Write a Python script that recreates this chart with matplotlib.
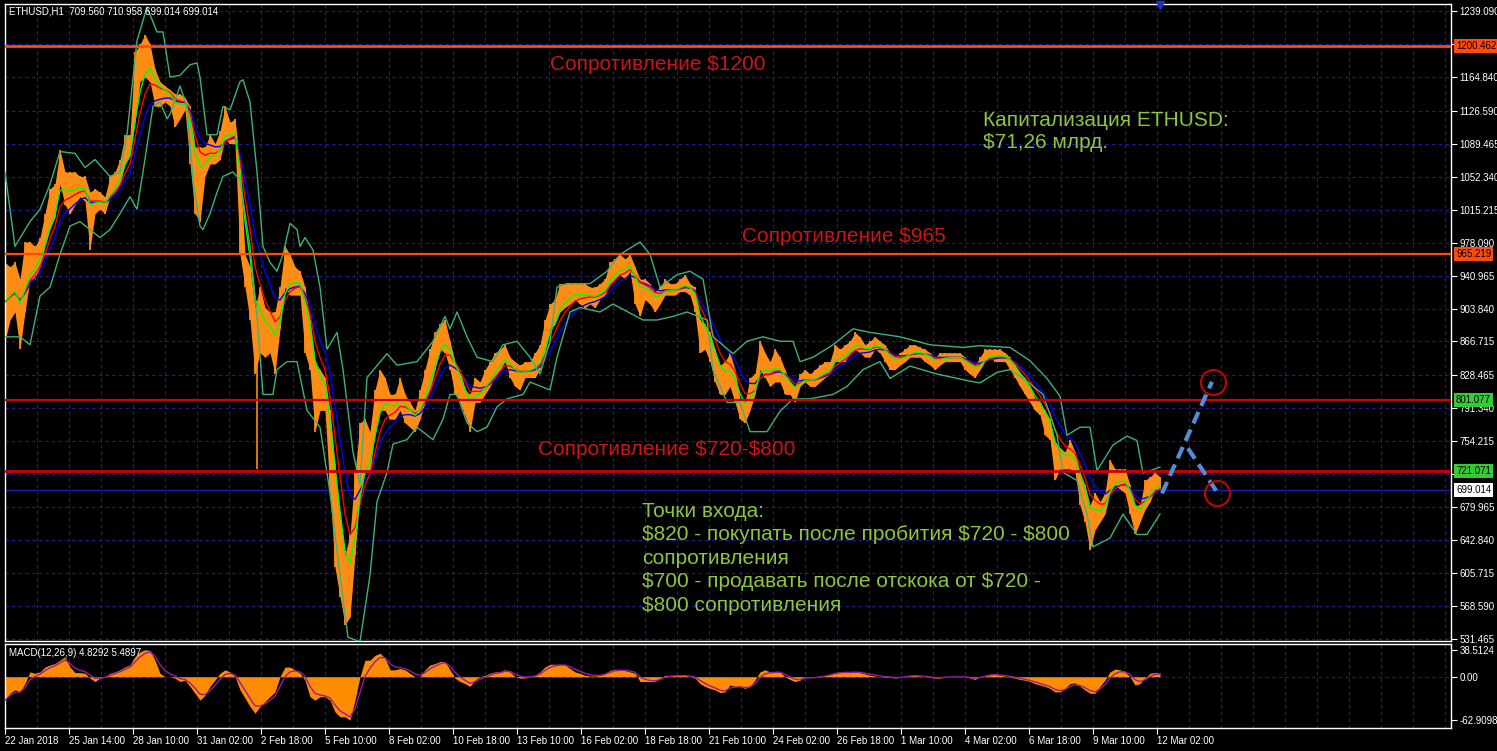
import numpy as np
import pandas as pd
import matplotlib
matplotlib.use("Agg")
import matplotlib.pyplot as plt

plt.rcParams['font.family'] = ['Liberation Sans', 'DejaVu Sans']

# ---- data (H1 bars, one bar per pixel column, sampled every 5 bars) ----
bar_high = [956, 951, 956, 937, 979, 979, 974, 984, 1011, 1039,
            1044, 1083, 1058, 1058, 1058, 1053, 1053, 1035, 1039, 1035,
            1030, 1053, 1058, 1072, 1100, 1100, 1193, 1202, 1213, 1202,
            1174, 1160, 1155, 1151, 1146, 1146, 1142, 1132, 1086, 1086,
            1086, 1100, 1090, 1104, 1132, 1114, 1118, 1067, 965, 951,
            905, 928, 905, 900, 900, 928, 974, 965, 951, 946,
            928, 891, 844, 835, 826, 789, 728, 672, 626, 649,
            719, 775, 779, 765, 812, 835, 826, 807, 807, 826,
            807, 798, 789, 812, 835, 858, 877, 886, 891, 867,
            844, 835, 812, 807, 826, 821, 835, 844, 854, 858,
            863, 849, 844, 840, 844, 844, 854, 863, 891, 909,
            914, 932, 932, 932, 932, 932, 932, 928, 928, 932,
            937, 956, 960, 965, 960, 965, 951, 937, 937, 932,
            923, 928, 937, 932, 932, 937, 942, 932, 928, 891,
            886, 877, 858, 840, 844, 854, 835, 802, 798, 826,
            830, 867, 854, 844, 858, 849, 835, 821, 816, 830,
            835, 830, 835, 840, 844, 844, 863, 858, 863, 867,
            877, 872, 863, 867, 872, 867, 863, 854, 849, 854,
            858, 863, 863, 860, 858, 854, 849, 854, 854, 854,
            854, 854, 849, 844, 840, 849, 858, 858, 858, 858,
            854, 849, 840, 830, 826, 816, 802, 798, 789, 779,
            751, 747, 742, 756, 742, 719, 705, 682, 696, 686,
            696, 733, 723, 723, 723, 705, 682, 682, 710, 714,
            719, 714]
bar_low = [867, 891, 900, 858, 900, 937, 937, 951, 974, 993,
           1007, 1044, 1021, 1011, 1021, 1030, 1025, 970, 1011, 1016,
           1011, 1030, 1035, 1044, 1067, 1076, 1114, 1160, 1165, 1160,
           1132, 1132, 1137, 1132, 1109, 1118, 1128, 1067, 1011, 1002,
           1053, 1067, 1067, 1072, 1095, 1090, 1090, 965, 928, 891,
           830, 854, 849, 854, 830, 881, 928, 919, 919, 919,
           854, 835, 765, 789, 789, 696, 612, 579, 547, 556,
           626, 696, 719, 719, 765, 789, 789, 779, 779, 789,
           775, 770, 765, 779, 798, 812, 835, 858, 854, 835,
           807, 798, 784, 765, 798, 798, 807, 816, 826, 835,
           844, 826, 816, 812, 826, 826, 826, 835, 854, 881,
           886, 900, 905, 909, 914, 909, 905, 909, 905, 914,
           919, 932, 937, 942, 937, 946, 909, 895, 914, 909,
           900, 909, 919, 919, 919, 923, 923, 919, 900, 854,
           858, 844, 821, 807, 807, 816, 798, 779, 775, 789,
           807, 835, 826, 816, 821, 821, 807, 807, 798, 816,
           821, 816, 816, 821, 826, 830, 844, 844, 844, 854,
           858, 854, 849, 849, 858, 854, 844, 835, 835, 840,
           844, 849, 849, 849, 844, 840, 835, 840, 844, 844,
           844, 844, 835, 830, 826, 835, 844, 849, 844, 844,
           844, 835, 826, 816, 807, 798, 789, 784, 761, 756,
           710, 723, 723, 723, 719, 682, 663, 631, 654, 663,
           672, 696, 705, 700, 696, 672, 649, 663, 677, 686,
           700, 700]
wick_bar = [257]
wick_high = [860]
wick_low = [723]

# outer band (sea green)
upper_bar = [5, 15, 30, 40, 50, 60, 75, 85, 95, 110, 120, 127, 137, 147, 157, 163, 170, 180,
             190, 197, 200, 207, 217, 223, 230, 240, 243, 250, 257, 263, 270, 277, 283, 290,
             297, 300, 305, 313, 320, 327, 337, 343, 353, 360, 367, 387, 397, 417, 433, 445,
             450, 457, 467, 477, 493, 503, 517, 530, 540, 550, 557, 567, 590, 607, 620, 640,
             650, 660, 677, 690, 703, 713, 733, 747, 763, 780, 793, 800, 813, 833, 853, 870,
             900, 930, 963, 980, 1010, 1030, 1047, 1060, 1067, 1080, 1090, 1097, 1113, 1127,
             1137, 1143, 1160]
upper_val = [1058, 974, 1002, 1016, 1044, 1081, 1079, 1063, 1072, 1053, 1058, 1100, 1206, 1244,
             1216, 1216, 1165, 1167, 1179, 1181, 1165, 1100, 1100, 1132, 1128, 1160, 1162, 1137,
             1058, 974, 956, 946, 965, 1000, 993, 974, 984, 970, 928, 858, 877, 835, 742, 705,
             826, 853, 840, 844, 867, 895, 881, 900, 872, 849, 844, 863, 867, 849, 830, 867,
             928, 932, 932, 946, 965, 979, 965, 928, 942, 946, 937, 872, 853, 867, 872, 867,
             867, 844, 849, 863, 881, 877, 872, 863, 860, 862, 860, 845, 825, 805, 761, 770,
             770, 721, 750, 760, 755, 718, 725]
lower_bar = [5, 20, 30, 40, 50, 60, 70, 80, 100, 110, 120, 130, 137, 143, 153, 160, 167, 170,
             180, 187, 193, 200, 203, 210, 217, 223, 233, 240, 250, 257, 263, 273, 277, 287,
             297, 307, 320, 330, 340, 348, 360, 370, 377, 387, 393, 407, 417, 433, 443, 450,
             457, 467, 477, 487, 497, 507, 523, 530, 550, 557, 570, 580, 600, 613, 643, 657,
             673, 687, 707, 713, 727, 740, 750, 767, 780, 793, 810, 833, 847, 863, 880, 890,
             910, 937, 970, 980, 997, 1010, 1027, 1043, 1057, 1063, 1077, 1087, 1093, 1110,
             1123, 1137, 1147, 1160]
lower_val = [872, 872, 863, 918, 928, 965, 997, 1002, 984, 993, 1011, 1030, 1016, 1058, 1132,
             1137, 1118, 1123, 1155, 1132, 1049, 997, 993, 1011, 1035, 1053, 1058, 1049, 974,
             895, 807, 807, 835, 844, 844, 789, 770, 696, 603, 533, 528, 603, 686, 719, 751,
             756, 770, 756, 779, 807, 807, 775, 765, 770, 793, 802, 807, 821, 812, 849, 900,
             905, 900, 909, 891, 891, 895, 900, 891, 835, 798, 798, 765, 765, 788, 802, 802,
             807, 816, 835, 844, 825, 839, 830, 822, 820, 832, 835, 822, 807, 761, 719, 710,
             672, 635, 645, 672, 649, 649, 672]

macd_hist = [-34, -24, -19, -22, -10, 7, 5, 7, 14, 17,
             19, 24, 29, 14, 6, 6, 5, -2, -7, -2,
             0, 5, 7, 10, 14, 17, 29, 36, 39, 38,
             24, 5, 0, 0, -2, -7, -5, -14, -24, -34,
             -27, -14, -5, 5, 10, 7, 0, -19, -31, -43,
             -53, -43, -36, -29, -22, 0, 14, 14, 10, 5,
             -5, -29, -34, -29, -29, -34, -51, -58, -58, -63,
             -34, 0, 24, 24, 31, 34, 27, 10, 10, 12,
             10, 5, 0, 0, 10, 17, 19, 22, 22, 10,
             -2, -7, -10, -14, -5, 0, 2, 5, 7,
             7, 10, 7, 0, -2, -2, 0, 2, 7, 14,
             18, 18, 18, 17, 12, 7, 5, 2, 1, 1,
             2, 5, 9, 11, 10, 9, 7, 5, -7, -7,
             -7, -7, -2, 2, 2, 2, 2, 2, 0, -2,
             -10, -14, -17, -19, -23, -22, -12, -14, -14, -17,
             -14, -5, 7, 10, 7, 7, 7, 0, -4, -7,
             -5, 0, -1, -1, 1, 2, 4, 6, 7, 7,
             6, 7, 6, 4, 2, 1, 0, -1, -1, -2,
             -1, 1, 2, 2, 1, 0, -1, -2, -2, 0,
             0, 0, 0, 0, -2, -4, 0, 2, 4, 4,
             2, 1, -1, -2, -4, -5, -7, -10, -12, -14,
             -17, -22, -22, -17, -10, -9, -14, -19, -24, -24,
             -14, -5, 7, 11, 10, 7, 0, -12, -10, -2,
             5, 6, 5]

levels = [1200.462, 965.219, 801.077, 721.071]
level_colors = ['#FF4A0A', '#FF4A0A', '#D00000', '#D00000']
level_widths = [2.0, 1.6, 1.6, 2.0]
level_box = ['#FF4A0A', '#FF4A0A', '#33CC33', '#33CC33']
last_price = 699.014

price_ticks = [1239.090, 1201.965, 1164.840, 1126.590, 1089.465, 1052.340, 1015.215, 978.090,
               940.965, 903.840, 866.715, 828.465, 791.340, 754.215, 717.090, 679.965,
               642.840, 605.715, 568.590, 531.465]
hidden_ticks = [1201.965, 717.090]   # covered by the level boxes
macd_ticks = [38.5124, 0.0, -62.9098]
macd_tick_labels = ['38.5124', '0.00', '-62.9098']
date_labels = ['22 Jan 2018', '25 Jan 14:00', '28 Jan 10:00', '31 Jan 02:00', '2 Feb 18:00',
               '5 Feb 10:00', '8 Feb 02:00', '10 Feb 18:00', '13 Feb 10:00', '16 Feb 02:00',
               '18 Feb 18:00', '21 Feb 10:00', '24 Feb 02:00', '26 Feb 18:00', '1 Mar 10:00',
               '4 Mar 02:00', '6 Mar 18:00', '9 Mar 10:00', '12 Mar 02:00']

# forecast sketch: buy target 820, sell target 700
fc_up_bar = [1162, 1212]
fc_up_val = [695.4, 821.3]
fc_dn_bar = [1188, 1219]
fc_dn_val = [746.2, 693.5]
target_bar = [1213, 1217]
target_val = [821.3, 695.6]

# ---- layout ----
W, H = 1497, 751
BG = 'black'
GRID = '#1C1CA0'
ORANGE = '#FF8C14'
fig = plt.figure(figsize=(W / 100, H / 100), dpi=100, facecolor=BG)
ax = fig.add_axes([5 / W, 1 - 641 / H, 1446 / W, 637 / H], facecolor=BG)
ax2 = fig.add_axes([5 / W, 1 - 728 / H, 1446 / W, 84 / H], facecolor=BG)

x_end = 1451
for a in (ax, ax2):
    a.set_xlim(5, x_end)
    for s in a.spines.values():
        s.set_color('white')
        s.set_linewidth(1)
    for gx in range(37, x_end, 32):
        a.axvline(gx, color=GRID, lw=0.8, ls=(0, (3, 3)), zorder=0)

ax.set_ylim(528.8, 1247.5)
for p in price_ticks:
    ax.axhline(p, color=GRID, lw=0.8, ls=(0, (3, 3)), zorder=0)

# price bars
bx = 5 * (np.arange(len(bar_high)) + 1)
hi = np.array(bar_high, dtype=float)
lo = np.array(bar_low, dtype=float)
ax.fill_between(bx, lo, hi, color=ORANGE, lw=0, zorder=2)
ax.vlines(bx, lo, hi, color=ORANGE, lw=1.3, zorder=2)
ax.vlines(wick_bar, wick_low, wick_high, color=ORANGE, lw=1.2, zorder=2)

# smoothed averages of the median price
mid = pd.Series((hi + lo) / 2)
ax.plot(bx, mid.ewm(span=8).mean(), color='#0000FF', lw=1, zorder=3)
ax.plot(bx, mid.ewm(span=5).mean(), color='#FF0000', lw=1, zorder=3)
ax.plot(bx, mid.ewm(span=3).mean(), color='#00FF00', lw=1, zorder=3)
ax.plot(upper_bar, upper_val, color='#3CB371', lw=1, zorder=3)
ax.plot(lower_bar, lower_val, color='#3CB371', lw=1, zorder=3)

# levels
for lv, c, w in zip(levels, level_colors, level_widths):
    ax.axhline(lv, color=c, lw=w, zorder=4)
ax.axhline(last_price, color='#2020B0', lw=1, zorder=1)

# right price scale
ax.yaxis.tick_right()
ax.set_yticks(price_ticks)
ax.set_yticklabels(['' if p in hidden_ticks else f'{p:.3f}' for p in price_ticks])
ax.set_xticks([])
ax.tick_params(axis='y', colors='white', labelsize=7, length=4, pad=2)
ytr = ax.get_yaxis_transform()
for lv, c in zip(levels, level_box):
    ax.text(1.0035, lv, f'{lv:.3f}', transform=ytr, fontsize=7, color='black',
            va='center', ha='left', clip_on=False, zorder=10,
            bbox=dict(boxstyle='square,pad=0.2', fc=c, ec='none'))
ax.text(1.0035, last_price, f'{last_price:.3f}', transform=ytr, fontsize=7, color='black',
        va='center', ha='left', clip_on=False, zorder=10,
        bbox=dict(boxstyle='square,pad=0.2', fc='white', ec='none'))

ax.text(4 / 1446, 1 - 7 / 637, 'ETHUSD,H1  709.560 710.958 699.014 699.014',
        transform=ax.transAxes, color='white', fontsize=7, va='center', ha='left')
ax.plot([1160], [1246.5], marker='v', color='#2030D0', ms=6, clip_on=False, zorder=5)

# annotations
RED_TXT = '#CC1414'
GREEN_TXT = '#8CC63F'
txt = dict(fontsize=15, va='center', zorder=6, parse_math=False)
ax.text(550, 1178.7, 'Сопротивление $1200', color=RED_TXT, **txt)
ax.text(742, 985.7, 'Сопротивление $965', color=RED_TXT, **txt)
ax.text(538, 744.3, 'Сопротивление $720-$800', color=RED_TXT, **txt)
ax.text(983, 1103.6, 'Капитализация ETHUSD:\n$71,26 млрд.', color=GREEN_TXT,
        linespacing=1.22, **txt)
ax.text(642, 622.4, 'Точки входа:\n$820 - покупать после пробития $720 - $800\nсопротивления\n'
        '$700 - продавать после отскока от $720 -\n$800 сопротивления',
        color=GREEN_TXT, linespacing=1.3, **txt)

ax.plot(fc_up_bar, fc_up_val, color='#4F8FD8', lw=3, dashes=(3, 1.6), zorder=7)
ax.plot(fc_dn_bar, fc_dn_val, color='#4F8FD8', lw=3, dashes=(3, 1.6), zorder=7)
ax.plot(target_bar, target_val, ls='none', marker='o', ms=18, mfc='none', mec='#C80000',
        mew=1.5, zorder=8)

# MACD pane
ax2.set_ylim(-74.3, 47.4)
ax2.axhline(0, color=GRID, lw=0.8, ls=(0, (3, 3)), zorder=0)
mx = 5 * (np.arange(len(macd_hist)) + 1)
mh = pd.Series(macd_hist, dtype=float)
ax2.fill_between(mx, 0, mh, color='#FF8C00', lw=0, zorder=2)
ax2.plot(mx, mh.ewm(span=3).mean(), color='#9A1AA0', lw=1, zorder=3)
ax2.text(4 / 1446, 1 - 9 / 84, 'MACD(12,26,9) 4.8292 5.4897', transform=ax2.transAxes,
         color='white', fontsize=7, va='center', ha='left')
ax2.yaxis.tick_right()
ax2.set_yticks(macd_ticks)
ax2.set_yticklabels(macd_tick_labels)
ax2.set_xticks([5 + 64 * i for i in range(len(date_labels))])
ax2.set_xticklabels(date_labels)
for t in ax2.get_xticklabels():
    t.set_ha('left')
ax2.tick_params(colors='white', labelsize=7, length=4, pad=2)

fig.savefig('out.png', dpi=100, facecolor=BG)
